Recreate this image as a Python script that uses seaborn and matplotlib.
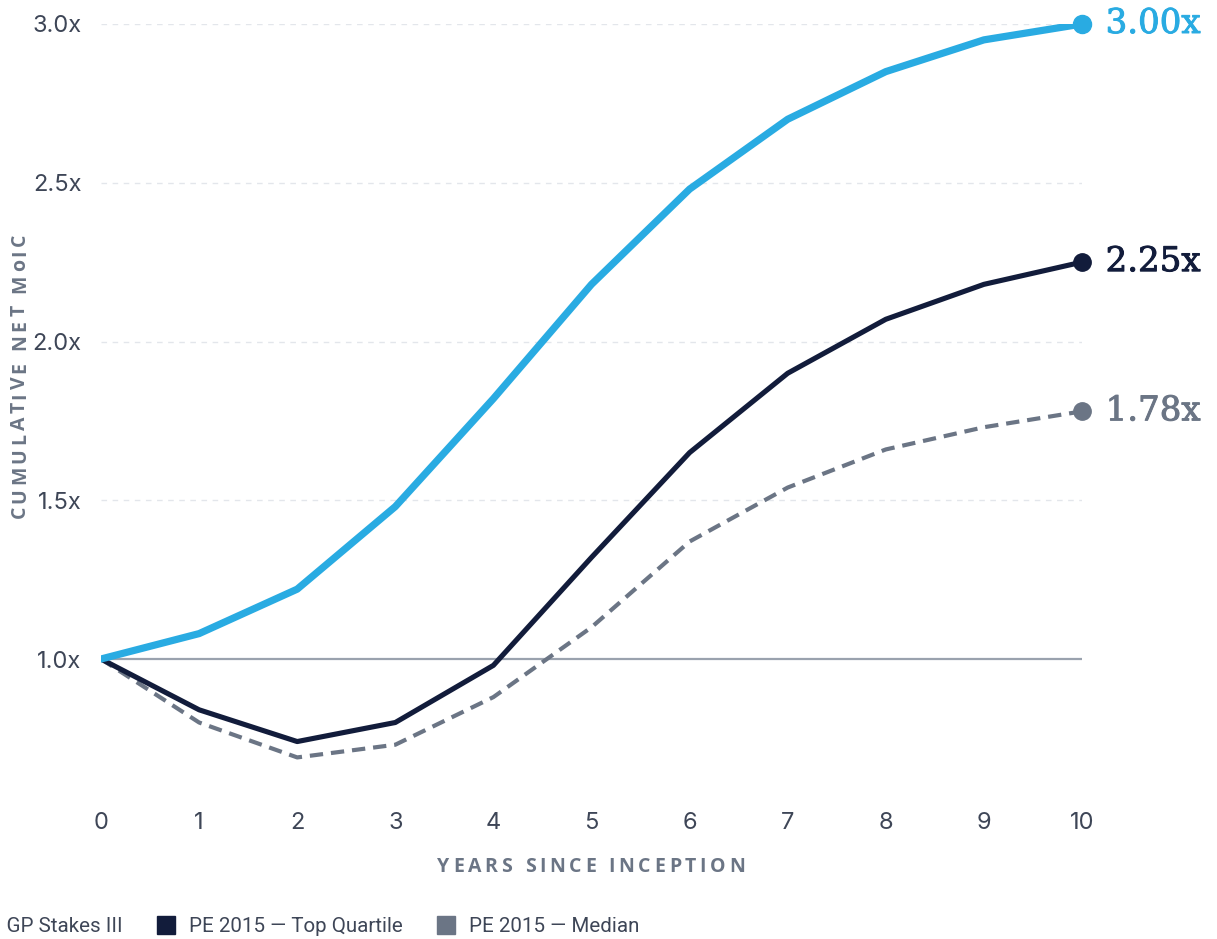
import numpy as np
import pandas as pd
import matplotlib
matplotlib.use("Agg")
import matplotlib.pyplot as plt
import matplotlib.patheffects as pe
from matplotlib.lines import Line2D
from matplotlib.font_manager import FontProperties
import seaborn as sns

# Cumulative net MoIC by year since inception
years = list(range(0, 11))
gp_stakes = [1.00, 1.08, 1.22, 1.48, 1.82, 2.18, 2.48, 2.70, 2.85, 2.95, 3.00]
pe_top_quartile = [1.00, 0.84, 0.74, 0.80, 0.98, 1.32, 1.65, 1.90, 2.07, 2.18, 2.25]
pe_median = [1.00, 0.80, 0.69, 0.73, 0.88, 1.10, 1.37, 1.54, 1.66, 1.73, 1.78]

series_names = ["Blue Owl GP Stakes III", "PE 2015 \u2014 Top Quartile", "PE 2015 \u2014 Median"]
series_values = [gp_stakes, pe_top_quartile, pe_median]
end_labels = ["3.00x", "2.25x", "1.78x"]
y_ticks = [1.0, 1.5, 2.0, 2.5, 3.0]
y_tick_labels = ["1.0x", "1.5x", "2.0x", "2.5x", "3.0x"]

BLUE = "#29ABE2"
NAVY = "#121C3B"
SLATE = "#6B7585"
TEXT = "#3E4657"
colors = [BLUE, NAVY, SLATE]
widths = [5.2, 3.7, 3.0]

sns.set_theme(style="white")
plt.rcParams["font.family"] = ["Inter", "DejaVu Sans"]

W, H = 1217, 939
fig = plt.figure(figsize=(W / 100, H / 100), dpi=100)
ax = fig.add_axes([101 / W, 1 - 786 / H, (1082 - 101) / W, (786 - 24) / H])

# light dashed gridlines
for yv in [1.5, 2.0, 2.5, 3.0]:
    ax.axhline(yv, color="#E3E6EB", lw=1.0, ls=(0, (4, 4)), zorder=0)
# baseline at 1.0x
ax.axhline(1.0, color="#9AA2AE", lw=1.6, zorder=1)

frames = []
for name, vals in zip(series_names, series_values):
    frames.append(pd.DataFrame({"year": years, "moic": vals, "series": name}))
df = pd.concat(frames, ignore_index=True)

for i, (name, col, lw) in enumerate(zip(series_names, colors, widths)):
    sub = df[df["series"] == name]
    sns.lineplot(data=sub, x="year", y="moic", ax=ax, color=col, lw=lw,
                 zorder=3 + (2 - i), solid_capstyle="round")
    line = ax.lines[-1]
    if i == 2:
        line.set_linestyle((0, (3.2, 1.9)))
        line.set_dash_capstyle("butt")
    last_x, last_y = sub["year"].iloc[-1], sub["moic"].iloc[-1]
    ax.plot([last_x], [last_y], marker="o", ms=13 if i == 0 else 12.5,
            color=col, clip_on=False, zorder=6)
    ax.annotate(end_labels[i], xy=(last_x, last_y), xytext=(17, 0),
                textcoords="offset points", ha="left", va="center",
                fontsize=24.5, color=col, family="DejaVu Serif",
                annotation_clip=False,
                path_effects=[pe.withStroke(linewidth=0.7, foreground=col)])

ax.set_xlim(0, 10)
ax.set_ylim(0.6, 3.0)
ax.set_xticks(years)
ax.set_xticklabels([str(y) for y in years])
ax.set_yticks(y_ticks)
ax.set_yticklabels(y_tick_labels)
ax.tick_params(axis="both", length=0, labelsize=17, colors=TEXT)
ax.tick_params(axis="x", pad=19)
ax.tick_params(axis="y", pad=14)
ax.set_xlabel("")
ax.set_ylabel("")
for s in ax.spines.values():
    s.set_visible(False)

# letter-spaced axis titles, laid out one glyph at a time
renderer = fig.canvas.get_renderer()
title_fp = FontProperties(family=["Open Sans", "DejaVu Sans"], weight="bold", size=14)


def tracked_text(xc, yc, s, track, vertical=False):
    px_size = title_fp.get_size_in_points() * fig.dpi / 72
    widths_px = []
    for ch in s:
        if ch == " ":
            widths_px.append(px_size * 0.26)
        else:
            w, _, _ = renderer.get_text_width_height_descent(ch, title_fp, ismath=False)
            widths_px.append(w)
    total = sum(widths_px) + track * (len(s) - 1)
    pos = -total / 2
    for ch, w in zip(s, widths_px):
        c = pos + w / 2
        if ch != " ":
            if vertical:
                x, y = xc, yc - c
            else:
                x, y = xc + c, yc
            fig.text(x / W, 1 - y / H, ch, fontproperties=title_fp, color=SLATE,
                     ha="center", va="baseline", rotation=90 if vertical else 0,
                     rotation_mode="anchor")
        pos += w + track


tracked_text(591, 872, "YEARS SINCE INCEPTION", track=3.7)
tracked_text(25, 376, "CUMULATIVE NET MoIC", track=3.4, vertical=True)

handles = [Line2D([], [], marker="s", ls="", ms=13, color=c) for c in colors]
fig.legend(handles, series_names, loc="center left",
           bbox_to_anchor=(-130 / W, 1 - 927 / H), ncol=3, frameon=False,
           handlelength=1.0, handletextpad=0.62, columnspacing=1.6,
           prop={"family": ["Roboto", "DejaVu Sans"], "size": 14.8},
           labelcolor=TEXT)

fig.savefig("out.png", dpi=100)
